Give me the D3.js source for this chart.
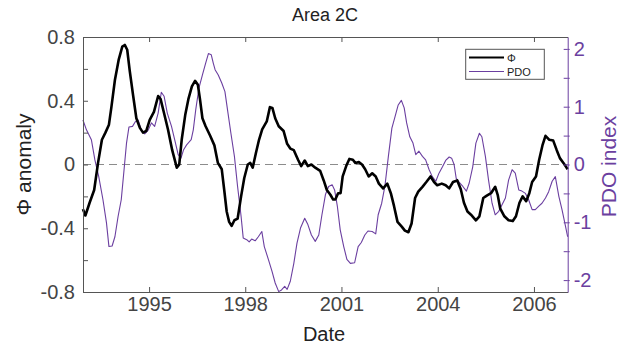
<!DOCTYPE html>
<html>
<head>
<meta charset="utf-8">
<script src="https://cdn.jsdelivr.net/npm/d3@7"></script>
<style>
  html, body { margin: 0; padding: 0; background: #fff; }
  svg { display: block; font-family: "Liberation Sans", Arial, sans-serif; }
</style>
</head>
<body>
<svg id="chart" width="619" height="347"></svg>
<script>
// ---- data (decimal years) ----
const phiTime = [1994.05,1994.12,1994.24,1994.37,1994.48,1994.59,1994.69,1994.79,1994.86,1994.96,
  1995.07,1995.17,1995.24,1995.31,1995.38,1995.48,1995.57,1995.67,1995.76,1995.85,1995.95,
  1996.07,1996.19,1996.26,1996.36,1996.47,1996.59,1996.72,1996.79,1996.86,1996.96,
  1997.05,1997.15,1997.24,1997.32,1997.38,1997.45,1997.54,1997.67,1997.79,1997.89,
  1998.00,1998.07,1998.14,1998.21,1998.28,1998.36,1998.45,1998.55,1998.64,1998.74,1998.81,1998.88,1998.97,
  1999.06,1999.15,1999.28,1999.37,1999.44,1999.52,1999.62,1999.76,1999.86,1999.95,
  2000.05,2000.17,2000.26,2000.36,2000.45,2000.55,2000.66,2000.80,2000.90,2000.99,
  2001.09,2001.17,2001.23,2001.31,2001.38,2001.44,2001.54,2001.63,2001.73,2001.80,2001.90,2001.99,
  2002.08,2002.18,2002.28,2002.38,2002.47,2002.59,2002.71,2002.81,2002.90,
  2003.00,2003.12,2003.21,2003.31,2003.40,2003.50,2003.59,2003.71,2003.82,2003.94,
  2004.04,2004.13,2004.26,2004.37,2004.47,2004.58,2004.70,2004.80,2004.89,2004.99,
  2005.09,2005.23,2005.33,2005.44,2005.54,2005.66,2005.78,2005.85,2005.92,
  2006.04,2006.16,2006.28,2006.37,2006.47,2006.56,2006.66,2006.75,2006.83,2006.94,
  2007.03,2007.13,2007.21,2007.32,2007.43,2007.53,2007.62,2007.72,2007.84];
const phiValues = [-0.28,-0.32,-0.24,-0.16,0.01,0.155,0.20,0.25,0.36,0.53,
  0.66,0.74,0.75,0.72,0.59,0.43,0.29,0.23,0.20,0.21,0.28,
  0.33,0.43,0.41,0.32,0.22,0.09,-0.02,0.00,0.155,0.31,
  0.41,0.49,0.525,0.50,0.41,0.29,0.24,0.18,0.12,0.01,
  -0.03,-0.16,-0.295,-0.36,-0.385,-0.35,-0.34,-0.20,-0.085,0.00,0.01,-0.02,0.07,
  0.155,0.22,0.27,0.36,0.355,0.29,0.24,0.21,0.13,0.10,
  0.09,0.03,-0.01,0.025,-0.01,0.00,-0.02,-0.04,-0.10,-0.16,
  -0.19,-0.22,-0.22,-0.18,-0.18,-0.075,-0.01,0.035,0.03,0.01,0.015,0.00,
  -0.03,-0.075,-0.055,-0.075,-0.12,-0.15,-0.12,-0.18,-0.26,
  -0.36,-0.39,-0.415,-0.425,-0.37,-0.21,-0.17,-0.14,-0.11,-0.075,
  -0.11,-0.13,-0.12,-0.13,-0.15,-0.11,-0.10,-0.155,-0.24,-0.295,
  -0.315,-0.35,-0.325,-0.21,-0.195,-0.18,-0.14,-0.19,-0.275,
  -0.325,-0.35,-0.355,-0.325,-0.24,-0.20,-0.23,-0.18,-0.11,-0.075,
  0.03,0.125,0.18,0.155,0.15,0.09,0.04,0.01,-0.03];

const pdoTime = [1994.05,1994.15,1994.29,1994.39,1994.50,1994.62,1994.72,1994.79,1994.88,1994.96,
  1995.05,1995.14,1995.22,1995.29,1995.36,1995.46,1995.54,1995.62,1995.71,1995.81,1995.90,
  1996.00,1996.09,1996.19,1996.28,1996.36,1996.45,1996.57,1996.66,1996.76,1996.84,1996.91,
  1997.00,1997.13,1997.19,1997.26,1997.35,1997.45,1997.54,1997.62,1997.70,1997.76,1997.81,1997.90,
  1998.00,1998.09,1998.17,1998.26,1998.36,1998.45,1998.55,1998.61,1998.71,1998.78,1998.85,1998.95,
  1999.04,1999.14,1999.21,1999.33,1999.43,1999.52,1999.62,1999.70,1999.79,1999.86,1999.95,
  2000.05,2000.14,2000.24,2000.36,2000.45,2000.55,2000.66,2000.76,2000.85,2000.95,
  2001.04,2001.14,2001.21,2001.29,2001.37,2001.47,2001.56,2001.66,2001.78,2001.88,2001.97,
  2002.07,2002.16,2002.28,2002.38,2002.45,2002.55,2002.64,2002.74,2002.84,2002.93,
  2003.02,2003.11,2003.19,2003.26,2003.35,2003.44,2003.52,2003.61,2003.71,2003.80,2003.90,2003.99,
  2004.09,2004.18,2004.28,2004.37,2004.47,2004.54,2004.61,2004.67,2004.77,2004.86,2004.96,
  2005.04,2005.14,2005.23,2005.33,2005.40,2005.50,2005.59,2005.69,2005.78,2005.88,2005.97,
  2006.07,2006.16,2006.26,2006.35,2006.45,2006.54,2006.64,2006.73,2006.83,2006.92,
  2007.02,2007.11,2007.21,2007.30,2007.40,2007.49,2007.59,2007.68,2007.78,2007.84];
const pdoValues = [0.77,0.60,0.43,0.08,-0.21,-0.61,-1.01,-1.42,-1.41,-1.25,
  -0.90,-0.61,-0.09,0.37,0.65,0.66,0.74,0.77,0.60,0.53,0.59,
  0.72,0.66,0.89,1.25,1.18,0.89,0.66,0.43,0.17,0.11,0.25,
  0.34,0.43,0.60,0.95,1.32,1.55,1.75,1.92,1.90,1.75,1.64,1.55,
  1.41,1.26,0.92,0.54,0.14,-0.38,-0.90,-1.27,-1.30,-1.34,-1.29,-1.32,
  -1.25,-1.16,-1.42,-1.65,-1.85,-2.05,-2.20,-2.17,-2.11,-2.16,-2.02,
  -1.71,-1.36,-1.10,-0.93,-1.04,-1.22,-1.33,-1.22,-0.87,-0.52,
  -0.38,-0.35,-0.44,-0.73,-1.13,-1.42,-1.64,-1.71,-1.70,-1.42,-1.35,
  -1.22,-1.15,-1.16,-1.20,-0.87,-0.67,-0.38,0.14,0.63,0.83,
  1.03,1.11,0.98,0.72,0.48,0.37,0.17,0.23,0.14,0.08,-0.09,-0.21,
  -0.29,-0.15,-0.04,0.07,0.13,0.11,0.00,-0.24,-0.32,-0.38,-0.46,
  -0.32,-0.04,0.37,0.54,0.48,0.14,-0.27,-0.67,-0.87,-0.81,-0.70,
  -0.58,-0.27,-0.09,-0.15,-0.44,-0.46,-0.50,-0.61,-0.78,-0.78,
  -0.72,-0.67,-0.58,-0.47,-0.29,-0.21,-0.55,-0.78,-1.07,-1.25];

// x ticks: datenum 729000 ... 733000 (every 1000 days), labelled by year
const xTickValues = [1995.932, 1998.668, 2001.405, 2004.145, 2006.882];
const xTickLabels = ["1995", "1998", "2001", "2004", "2006"];
const leftTicks = [-0.8, -0.6, -0.4, -0.2, 0, 0.2, 0.4, 0.6, 0.8];
const leftLabels = {"-0.8": "-0.8", "-0.4": "-0.4", "0": "0", "0.4": "0.4", "0.8": "0.8"};
const rightTicks = [-2, -1.5, -1, -0.5, 0, 0.5, 1, 1.5, 2];

// ---- layout ----
const L = 83, R = 567.7, T = 37, B = 292;
const purple = "#6b3fa0";
const axisGray = "#555";
const svg = d3.select("#chart");

const x = d3.scaleLinear().domain([1994.052, 2007.842]).range([L, R]);
const yL = d3.scaleLinear().domain([-0.8, 0.8]).range([B, T]);
const yR = d3.scaleLinear().domain([-2.206, 2.206]).range([B, T]);

// zero dashed line
svg.append("line")
  .attr("x1", L).attr("x2", R).attr("y1", yL(0)).attr("y2", yL(0))
  .attr("stroke", "#8c8c8c").attr("stroke-width", 1).attr("stroke-dasharray", "8,5");

// PDO line
svg.append("path")
  .datum(pdoTime.map((t, i) => [t, pdoValues[i]]))
  .attr("fill", "none").attr("stroke", purple).attr("stroke-width", 1.1)
  .attr("stroke-linejoin", "round")
  .attr("d", d3.line().x(d => x(d[0])).y(d => yR(d[1])));

// Phi line
svg.append("path")
  .datum(phiTime.map((t, i) => [t, phiValues[i]]))
  .attr("fill", "none").attr("stroke", "#000").attr("stroke-width", 2.6)
  .attr("stroke-linejoin", "round")
  .attr("d", d3.line().x(d => x(d[0])).y(d => yL(d[1])));

function styleAxis(g, color, fontSize) {
  g.selectAll(".domain").attr("stroke", color);
  g.selectAll(".tick line").attr("stroke", color);
  g.selectAll(".tick text").attr("fill", color === purple ? purple : "#444")
    .attr("font-size", fontSize).attr("font-family", "Liberation Sans, Arial, sans-serif");
}

// bottom axis
const gB = svg.append("g").attr("transform", `translate(0,${B})`)
  .call(d3.axisBottom(x).tickValues(xTickValues)
    .tickFormat((d, i) => xTickLabels[i]).tickSize(-5).tickPadding(5).tickSizeOuter(0));
styleAxis(gB, axisGray, 20);

// top axis (box)
const gT = svg.append("g").attr("transform", `translate(0,${T})`)
  .call(d3.axisTop(x).tickValues(xTickValues).tickFormat("").tickSize(-5).tickSizeOuter(0));
styleAxis(gT, axisGray, 20);

// left axis
const gL = svg.append("g").attr("transform", `translate(${L},0)`)
  .call(d3.axisLeft(yL).tickValues(leftTicks)
    .tickFormat(d => leftLabels[String(+d.toFixed(1))] || "").tickSize(-5).tickPadding(8).tickSizeOuter(0));
styleAxis(gL, axisGray, 20);

// right axis
const gR = svg.append("g").attr("transform", `translate(${R},0)`)
  .call(d3.axisRight(yR).tickValues(rightTicks)
    .tickFormat(d => Number.isInteger(d) ? String(d) : "").tickSize(-4).tickPadding(6).tickSizeOuter(0));
styleAxis(gR, purple, 20);
gR.selectAll(".tick").append("line").attr("x1", 0).attr("x2", 2).attr("stroke", purple);

// title & labels
svg.append("text").attr("x", 325).attr("y", 21).attr("text-anchor", "middle")
  .attr("font-size", 18).attr("fill", "#222").text("Area 2C");
svg.append("text").attr("x", 324).attr("y", 341).attr("text-anchor", "middle")
  .attr("font-size", 20).attr("fill", "#222").text("Date");
svg.append("text").attr("transform", `translate(31,${(T + B) / 2}) rotate(-90)`)
  .attr("text-anchor", "middle").attr("font-size", 21).attr("fill", "#222").text("Φ anomaly");
svg.append("text").attr("transform", `translate(616,${(T + B) / 2 + 2}) rotate(-90)`)
  .attr("text-anchor", "middle").attr("font-size", 21).attr("fill", purple).text("PDO index");

// legend
const lg = svg.append("g");
lg.append("rect").attr("x", 465.7).attr("y", 49.3).attr("width", 78.6).attr("height", 30)
  .attr("fill", "#fff").attr("stroke", "#555").attr("stroke-width", 1);
const legendItems = [["Φ", "#000", 2.2], ["PDO", purple, 1]];
legendItems.forEach((it, i) => {
  const yy = 57.5 + i * 14;
  lg.append("line").attr("x1", 469).attr("x2", 504).attr("y1", yy).attr("y2", yy)
    .attr("stroke", it[1]).attr("stroke-width", it[2]);
  lg.append("text").attr("x", 507).attr("y", yy + 4).attr("font-size", 11)
    .attr("fill", "#222").text(it[0]);
});
</script>
</body>
</html>
